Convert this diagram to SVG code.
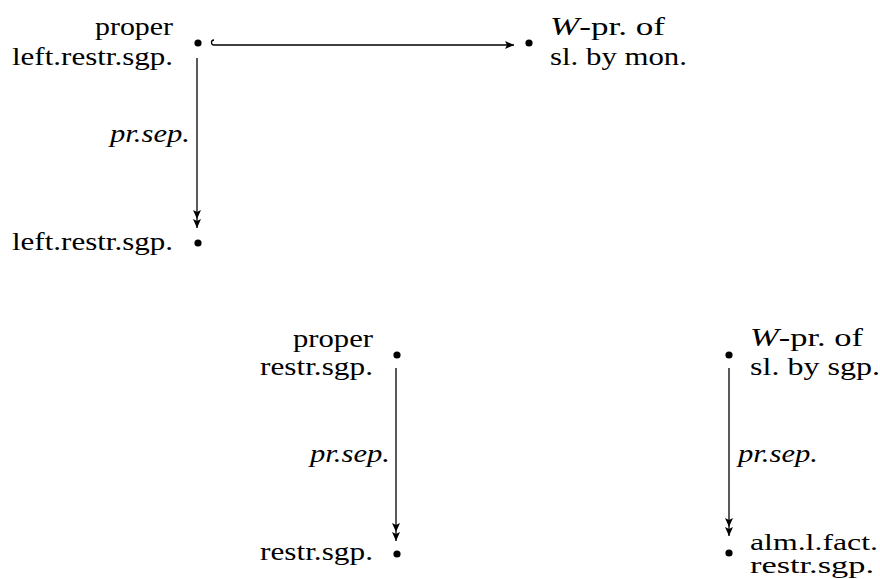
<svg xmlns="http://www.w3.org/2000/svg" width="880" height="579" viewBox="0 0 880 579">
<style>
text{font-family:Liberation Serif,Times New Roman,Times,DejaVu Serif,serif;font-size:26px;fill:#000}
.it{font-style:italic}
.end{text-anchor:end}
.dot{fill:#000}
.edge{stroke:#000;stroke-width:1.3;fill:none}
.sm{font-size:23px}
</style>
<defs>
<marker id="head" viewBox="-10 -5 11 10" refX="0" refY="0" markerWidth="11" markerHeight="10" markerUnits="userSpaceOnUse" orient="auto">
<path d="M0,0 L-9,-4 L-7,0 L-9,4 Z" fill="#000"/>
</marker>
<marker id="twohead" viewBox="-19 -5 20 10" refX="0" refY="0" markerWidth="20" markerHeight="10" markerUnits="userSpaceOnUse" orient="auto">
<path d="M0,0 L-9,-4 L-7,0 L-9,4 Z M-9,0 L-18,-4 L-16,0 L-18,4 Z" fill="#000"/>
</marker>
</defs>
<g id="connectors">
<path class="edge" d="M214,40 A2.5,2.5 0 0 0 214,45 L514,45" marker-end="url(#head)"/>
<path class="edge" d="M197,58 L197,228" marker-end="url(#twohead)"/>
<text class="it end" x="190" y="142" textLength="80" lengthAdjust="spacingAndGlyphs" font-family="Liberation Serif, serif">pr.sep.</text>
<path class="edge" d="M396,368 L396,541" marker-end="url(#twohead)"/>
<text class="it end" x="390" y="462" textLength="80" lengthAdjust="spacingAndGlyphs" font-family="Liberation Serif, serif">pr.sep.</text>
<path class="edge" d="M729,368 L729,536" marker-end="url(#twohead)"/>
<text class="it" x="738" y="462" textLength="80" lengthAdjust="spacingAndGlyphs" font-family="Liberation Serif, serif">pr.sep.</text>
</g>
<g id="n-proper-left">
<circle class="dot" cx="198" cy="43" r="3.6"/>
<text class="end" x="173" y="35" textLength="78" lengthAdjust="spacingAndGlyphs">proper</text>
<text class="end" x="173" y="65" textLength="161" lengthAdjust="spacingAndGlyphs">left.restr.sgp.</text>
</g>
<g id="n-wpr-mon">
<circle class="dot" cx="529" cy="43" r="3.6"/>
<text x="550" y="35" textLength="115" lengthAdjust="spacingAndGlyphs"><tspan class="it">W</tspan>-pr. of</text>
<text x="550" y="65" textLength="137" lengthAdjust="spacingAndGlyphs">sl. by mon.</text>
</g>
<g id="n-left">
<circle class="dot" cx="198" cy="243" r="3.6"/>
<text class="end" x="173" y="250" textLength="161" lengthAdjust="spacingAndGlyphs">left.restr.sgp.</text>
</g>
<g id="n-proper-restr">
<circle class="dot" cx="397" cy="355" r="3.6"/>
<text class="end" x="373" y="347" textLength="80" lengthAdjust="spacingAndGlyphs">proper</text>
<text class="end" x="373" y="375" textLength="113" lengthAdjust="spacingAndGlyphs">restr.sgp.</text>
</g>
<g id="n-wpr-sgp">
<circle class="dot" cx="729" cy="355" r="3.6"/>
<text x="750" y="346" textLength="113" lengthAdjust="spacingAndGlyphs"><tspan class="it">W</tspan>-pr. of</text>
<text x="750" y="375" textLength="130" lengthAdjust="spacingAndGlyphs">sl. by sgp.</text>
</g>
<g id="n-restr">
<circle class="dot" cx="397" cy="554" r="3.6"/>
<text class="end" x="373" y="560" textLength="113" lengthAdjust="spacingAndGlyphs">restr.sgp.</text>
</g>
<g id="n-alm">
<circle class="dot" cx="729" cy="553" r="3.6"/>
<text class="sm" x="750" y="550" textLength="128" lengthAdjust="spacingAndGlyphs">alm.l.fact.</text>
<text class="sm" x="750" y="573" textLength="124" lengthAdjust="spacingAndGlyphs">restr.sgp.</text>
</g>
</svg>
